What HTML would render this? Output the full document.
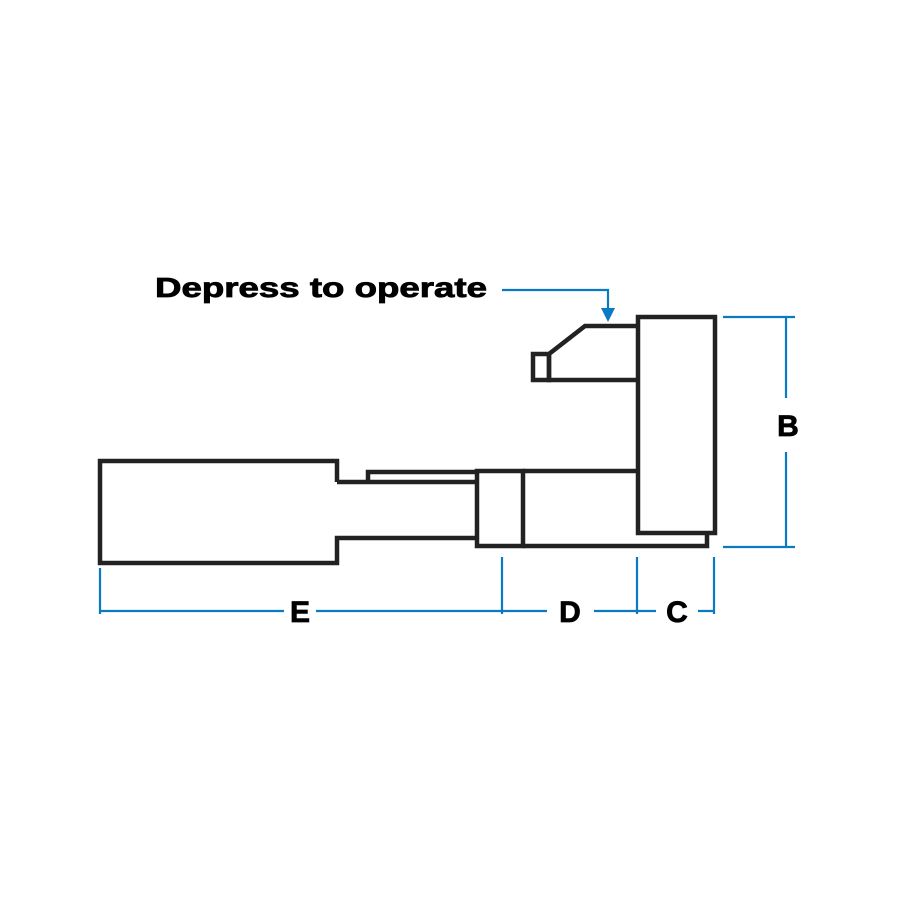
<!DOCTYPE html>
<html><head><style>html,body{margin:0;padding:0;background:#fff}</style></head>
<body>
<svg width="900" height="900" viewBox="0 0 900 900" xmlns="http://www.w3.org/2000/svg">
<rect width="900" height="900" fill="#fff"/>
<g fill="none" stroke="#222" stroke-width="4.5" stroke-linejoin="miter">
  <path d="M337,482 V461 H100 V563 H337 V538 H477"/>
  <path d="M337,482 H477"/>
  <path d="M368,482 V472 H477"/>
  <rect x="477" y="471" width="46" height="75"/>
  <path d="M523,471 H638"/>
  <path d="M523,546 H707 V533"/>
  <rect x="638" y="317" width="77" height="216"/>
  <path d="M638,326 H585 L549,354 V380 H638"/>
  <rect x="533" y="354" width="16" height="26"/>
</g>
<g fill="none" stroke="#0a7bc2" stroke-width="2.2">
  <path d="M502,290 H608 V310"/>
  <path d="M723,317 H795 M723,547 H795 M786,317 V398 M786,452 V547"/>
  <path d="M100,568 V614 M502,557 V614 M637,557 V614 M714,557 V614"/>
  <path d="M100,611 H284 M316,611 H502 M502,611 H547 M594,611 H637 M637,611 H656 M698,611 H714"/>
</g>
<path d="M601,308 L615,308 L608,322 Z" fill="#0a7bc2"/>
<g font-family="Liberation Sans, Arial, sans-serif" font-weight="bold" fill="#000">
  <text x="155" y="297" font-size="28" textLength="332" lengthAdjust="spacingAndGlyphs" stroke="#000" stroke-width="0.8">Depress to operate</text>
  <text x="788" y="436" font-size="30" text-anchor="middle" stroke="#000" stroke-width="0.8">B</text>
  <text x="300" y="622" font-size="30" text-anchor="middle" stroke="#000" stroke-width="0.8">E</text>
  <text x="570" y="622" font-size="30" text-anchor="middle" stroke="#000" stroke-width="0.8">D</text>
  <text x="677" y="622" font-size="30" text-anchor="middle" stroke="#000" stroke-width="0.8">C</text>
</g>
</svg>
</body></html>
